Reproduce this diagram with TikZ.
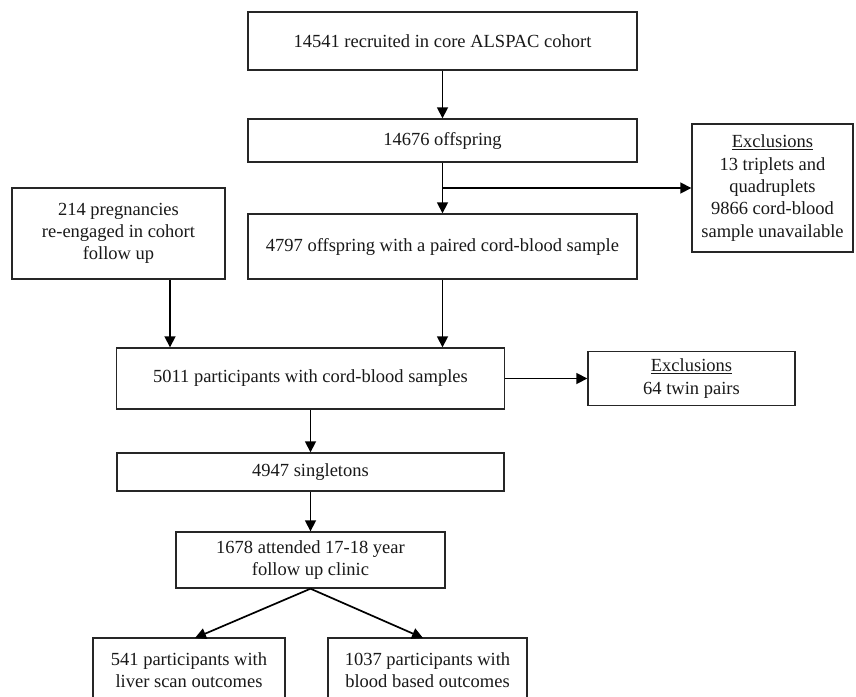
\documentclass[tikz,border=0pt]{standalone}
\usepackage{fontspec}
\setmainfont{Liberation Serif}
\usetikzlibrary{arrows.meta}
\begin{document}
\begin{tikzpicture}[x=1pt,y=-1pt,
  box/.style={draw=black!85, line width=1.4pt, inner sep=0pt, align=center,
    font=\fontsize{18.5}{22.3}\selectfont, text=black!90},
  arr/.style={line width=1.7pt, draw=black, -{Triangle[length=11pt,width=11pt]}}]
\path[use as bounding box, clip] (0,0) rectangle (856,696);
\fill[white] (0,0) rectangle (856,696);
% nodes
\node[box, minimum width=389pt, minimum height=58pt] (b1) at (442.5,41) {14541 recruited in core ALSPAC cohort};
\node[box, minimum width=389pt, minimum height=43pt] (b2) at (442.5,140.5) {14676 offspring};
\node[box, minimum width=389pt, minimum height=65pt] (b3) at (442.5,246.5) {4797 offspring with a paired cord-blood sample};
\node[box, minimum width=213pt, minimum height=91pt] (bp) at (118.5,233.5) {214 pregnancies\\re-engaged in cohort\\follow up};
\node[box, minimum width=161pt, minimum height=128pt] (ex1) at (772.5,188) {\underline{Exclusions}\\13 triplets and\\quadruplets\\9866 cord-blood\\sample unavailable};
\node[box, minimum width=388pt, minimum height=61pt] (b5) at (310.5,378.5) {5011 participants with cord-blood samples};
\node[box, minimum width=207pt, minimum height=54pt] (ex2) at (691.5,378.5) {\underline{Exclusions}\\64 twin pairs};
\node[box, minimum width=387pt, minimum height=38pt] (b6) at (310.5,472) {4947 singletons};
\node[box, minimum width=269pt, minimum height=56pt] (b7) at (310.5,560) {1678 attended 17-18 year\\follow up clinic};
\node[box, minimum width=192pt, minimum height=64pt] (b8) at (189,670) {541 participants with\\liver scan outcomes};
\node[box, minimum width=199pt, minimum height=64pt] (b9) at (427.5,670) {1037 participants with\\blood based outcomes};
% helper coordinates
\coordinate (cl) at (170,0);
\coordinate (jx) at (442.5,188);
\coordinate (t8) at (195,638);
\coordinate (t9) at (423,638);
% connectors
\draw[arr] (b1.south) -- (b2.north);
\draw[arr] (b2.south) -- (b3.north);
\draw[arr] (jx) -- (ex1.west);
\draw[arr] (cl |- bp.south) -- (cl |- b5.north);
\draw[arr] (b3.south) -- (b3.south |- b5.north);
\draw[arr] (b5.east) -- (ex2.west);
\draw[arr] (b5.south) -- (b6.north);
\draw[arr] (b6.south) -- (b7.north);
\draw[arr] (b7.south) -- (t8);
\draw[arr] (b7.south) -- (t9);
\end{tikzpicture}
\end{document}
